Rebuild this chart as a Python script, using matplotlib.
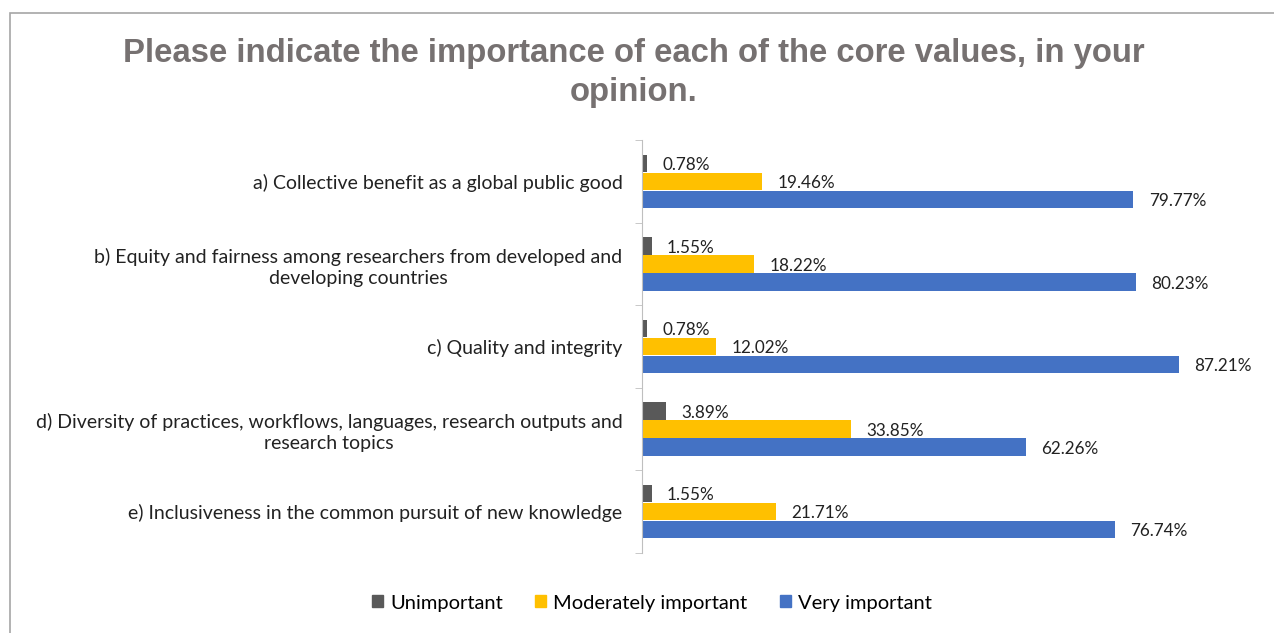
import matplotlib
matplotlib.use("Agg")
import matplotlib.pyplot as plt
from matplotlib.patches import Rectangle
import numpy as np

categories = [
    "a) Collective benefit as a global public good",
    "b) Equity and fairness among researchers from developed and\ndeveloping countries",
    "c) Quality and integrity",
    "d) Diversity of practices, workflows, languages, research outputs and\nresearch topics",
    "e) Inclusiveness in the common pursuit of new knowledge",
]
series_names = ["Unimportant", "Moderately important", "Very important"]
unimportant = [0.78, 1.55, 0.78, 3.89, 1.55]
moderately = [19.46, 18.22, 12.02, 33.85, 21.71]
very = [79.77, 80.23, 87.21, 62.26, 76.74]
colors = ["#595959", "#FFC000", "#4472C4"]

W, H = 1274, 633
fig = plt.figure(figsize=(W / 100, H / 100), dpi=100)
fig.patch.set_facecolor("white")

# outer border
fig.patches.append(Rectangle((10 / W, -0.01), 1.1, (H - 13) / H + 0.01, transform=fig.transFigure,
                             fill=False, edgecolor="#A6A6A6", linewidth=1.2))

ax = fig.add_axes([642 / W, 1 - 553 / H, (1258 - 642) / W, (553 - 140) / H])
n = len(categories)
bh = 0.218
y = np.arange(n)
font_lbl = "Lato"
for i, (vals, c, name) in enumerate(zip([unimportant, moderately, very], colors, series_names)):
    pos = y + (i - 1) * bh
    ax.barh(pos, vals, height=bh * 0.97, color=c, label=name)
    for p, v in zip(pos, vals):
        ax.text(v + 2.5, p + 0.02, f"{v:.2f}%", va="center", ha="left", fontsize=12.3,
                family=font_lbl, color="#222222")

ax.set_ylim(n - 0.5, -0.5)
ax.set_xlim(0, 100)
ax.set_yticks(y)
ax.set_yticklabels(categories, fontsize=14, family=font_lbl, color="#222222", ha="right",
                   linespacing=1.3, multialignment="center")
ax.set_yticks(np.arange(n + 1) - 0.5, minor=True)
ax.tick_params(axis="y", which="major", length=0, pad=14)
ax.tick_params(axis="y", which="minor", length=5, color="#BFBFBF", direction="out")
ax.set_xticks([])
for s in ["top", "right", "bottom"]:
    ax.spines[s].set_visible(False)
ax.spines["left"].set_color("#BFBFBF")

fig.text(634 / W, 1 - 73 / H, "Please indicate the importance of each of the core values, in your\nopinion.",
         ha="center", va="center", fontsize=23.7, fontweight="bold", family="Liberation Sans",
         color="#767171", linespacing=1.3)

handles = [Rectangle((0, 0), 1, 1, color=c) for c in colors]
fig.legend(handles, series_names, loc="center", bbox_to_anchor=(652 / W, 1 - 603 / H), ncol=3,
           frameon=False, prop={"family": font_lbl, "size": 14.5}, handlelength=0.55, handleheight=0.55,
           handletextpad=0.35, columnspacing=1.6)

fig.savefig("out.png", dpi=100)
